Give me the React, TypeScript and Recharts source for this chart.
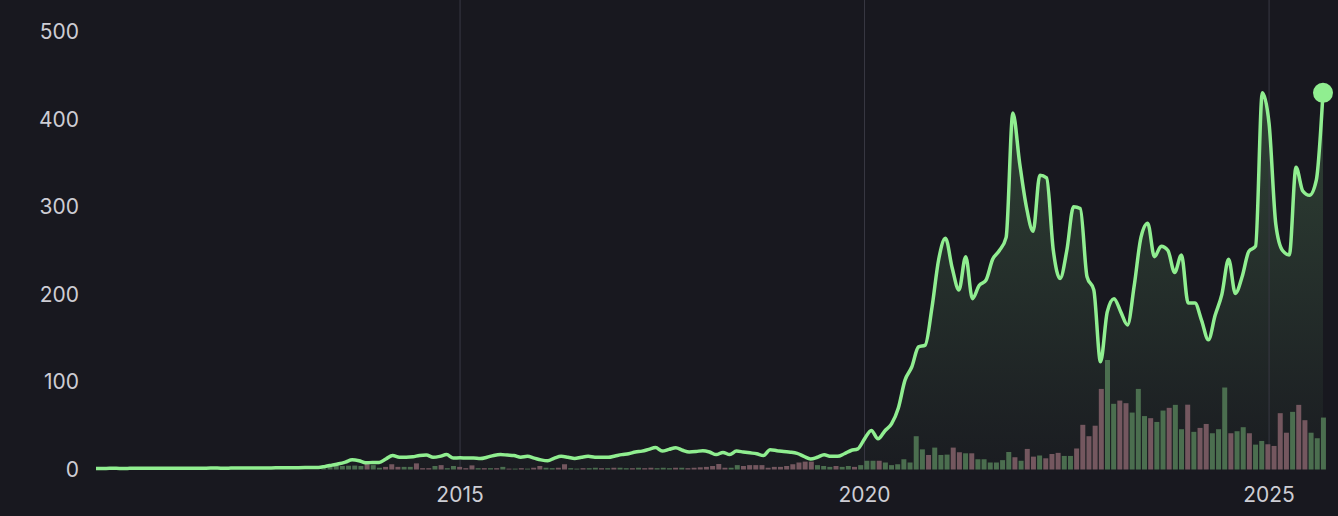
import React from "react";
import { AreaChart, Area, BarChart, Bar, Cell, LineChart, Line, XAxis, YAxis, ReferenceLine } from "recharts";

const W = 1338;
const H = 516;
const BG = "#18181f";
const LINE = "#90ee90";
const UP = "#4b6e4f";
const DOWN = "#74575f";
const TEXT = "#cdcdd4";
const FONT = "Inter, 'Noto Sans', sans-serif";

// monthly closes, first month 2010-07
const START_YEAR = 2010;
const START_MONTH = 7;
const PRICE = [
  1.2, 1.2, 1.3, 1.3, 1.2, 1.3, 1.4, 1.4, 1.3, 1.4, 1.5, 1.4,
  1.4, 1.5, 1.5, 1.4, 1.5, 1.6, 1.6, 1.5, 1.6, 1.7, 1.7, 1.6,
  1.7, 1.8, 1.8, 1.9, 2, 2, 2.1, 2.2, 2.3, 2.3, 3.5, 5,
  6.5, 8.5, 11, 10, 7.7, 8, 8, 12, 16, 14, 14, 14.5,
  16, 16.5, 14, 15, 17, 13, 13.5, 13, 13, 12.5, 14, 16,
  17, 16.5, 16, 14, 15, 13, 11, 10, 13, 15, 14, 12.6,
  14, 15, 14, 14, 14, 15.5, 17, 18, 20, 21, 23, 25,
  21, 23, 24.8, 22, 20, 20.5, 21.5, 20, 17, 19.5, 17, 21,
  20, 19, 18, 16, 22.5, 21.5, 20.5, 19.8, 18.4, 15, 12, 14,
  16.8, 15, 15, 18, 21.7, 23.6, 35, 44.6, 35, 44, 52, 70,
  102, 117, 140, 142, 185, 240, 264, 230, 205, 243, 195, 210,
  216, 240, 250, 265, 407, 350, 300, 272, 336, 333, 250, 218,
  250, 300, 298, 220, 205, 123, 180, 195, 180, 165, 210, 265,
  281, 243, 255, 250, 225, 245, 190, 190, 170, 148, 176, 200,
  240, 201, 220, 249, 255, 430, 395, 280, 250, 245, 345, 318,
  313, 330, 430,
];

const MONTHS = PRICE.map((_, i) => {
  const m = START_MONTH - 1 + i;
  return `${START_YEAR + Math.floor(m / 12)}-${String((m % 12) + 1).padStart(2, "0")}`;
});
const YEAR_TICKS = ["2015-01", "2020-01", "2025-01"];
const Y_TICKS = [0, 100, 200, 300, 400, 500];
const Y_MAX = 536;

// 4-week volume bars, from mid 2013 to the last period
const VOLUME = [
  1, 4, 4.5, 4, 4.3, 4.5, 4, 7.8, 5, 2, 3, 6, 3, 3, 3, 7, 1.5, 1.5, 4, 5,
  1.5, 4, 3, 1.5, 4.7, 1.5, 1.5, 1.5, 1.5, 3, 1, 1, 1.5, 1, 2, 4, 2, 1.5, 2, 6,
  1.5, 1, 1.5, 1.5, 2, 1.5, 1.5, 2, 2, 1.5, 1.5, 2, 1.5, 2, 1.5, 2, 1.5, 2, 2, 1.5,
  2, 2.5, 3, 4, 6.3, 2, 2, 5, 4, 5, 5, 5, 2, 3, 3, 4, 6, 8, 9, 9,
  5, 4, 3, 4, 3, 4, 3, 5, 10, 10, 10, 8, 5, 6, 11.7, 8, 38, 23, 16.6, 25,
  16.6, 17, 25, 19.7, 18.5, 18.5, 11.7, 11.7, 8, 8, 10.7, 20, 14, 10, 23.5, 14.7, 16, 12.8, 17.7, 19,
  15.5, 15.5, 24, 51, 38, 50, 92, 125, 75, 78.7, 75.7, 65, 92, 61, 58.6, 54.3, 67.3, 70.4, 73.8, 46,
  74, 43, 47.5, 52, 41.4, 46, 93.6, 41.4, 43.7, 48.3, 41.4, 28.4, 32.6, 28.8, 26.9, 64.3, 42, 65.8, 73.8, 56.3,
  42, 35.7, 59.3,
];
const VOLUME_UP = [
  1, 1, 1, 1, 1, 1, 1, 0, 1, 1, 0, 0, 0, 1, 1, 0, 0, 0, 1, 0,
  1, 1, 0, 0, 0, 1, 0, 1, 0, 1, 0, 1, 0, 1, 0, 0, 1, 1, 0, 0,
  1, 1, 0, 1, 1, 0, 1, 0, 1, 1, 0, 1, 0, 0, 1, 1, 1, 0, 1, 0,
  0, 0, 0, 0, 0, 0, 1, 1, 0, 0, 0, 0, 0, 0, 0, 0, 0, 0, 0, 0,
  1, 1, 1, 0, 1, 1, 0, 1, 1, 1, 0, 1, 1, 1, 1, 1, 1, 1, 0, 1,
  1, 1, 0, 0, 1, 0, 1, 1, 1, 1, 1, 1, 0, 1, 0, 0, 1, 0, 0, 0,
  1, 1, 0, 0, 0, 0, 0, 1, 1, 0, 0, 1, 1, 1, 0, 1, 1, 0, 1, 1,
  0, 1, 0, 0, 1, 1, 1, 0, 1, 1, 0, 1, 1, 0, 0, 0, 0, 1, 0, 0,
  1, 1, 1,
];

const priceData = PRICE.map((price, i) => ({ i, month: MONTHS[i], price }));
const volumeData = VOLUME.map((v, k) => ({ k, v, up: VOLUME_UP[k] === 1 }));
const tickIdx = YEAR_TICKS.map((t) => MONTHS.indexOf(t));

const PLOT_BOTTOM = 46.5;
const BAR_PITCH = 6.17;
const BAR_RIGHT = 1326.6;

const layer: React.CSSProperties = { position: "absolute", left: 0, top: 0 };

function EndDot(props: any) {
  const { cx, cy, index } = props;
  if (index !== PRICE.length - 1) return <g key={`d${index}`} />;
  return <circle key={`d${index}`} cx={cx} cy={cy} r={10} fill={LINE} />;
}

export default function App() {
  return (
    <div style={{ position: "fixed", left: 0, top: 0, width: W, height: H, background: BG, overflow: "hidden" }}>
      {/* year lines, axes and area fill */}
      <div style={layer}>
        <AreaChart width={W} height={H} data={priceData} margin={{ top: 0, right: 15, bottom: 0, left: 0 }}>
          <defs>
            <linearGradient id="priceFill" x1="0" y1="0" x2="0" y2="1">
              <stop offset="0%" stopColor={LINE} stopOpacity={0.32} />
              <stop offset="100%" stopColor={LINE} stopOpacity={0.03} />
            </linearGradient>
          </defs>
          <XAxis
            type="number"
            dataKey="i"
            domain={[0, PRICE.length - 1]}
            ticks={tickIdx}
            tickFormatter={(v) => MONTHS[v].slice(0, 4)}
            axisLine={false}
            tickLine={false}
            tickSize={0}
            tickMargin={18}
            height={PLOT_BOTTOM}
            tick={{ fill: TEXT, fontSize: 21, fontFamily: FONT }}
          />
          <YAxis
            domain={[0, Y_MAX]}
            ticks={Y_TICKS}
            width={96}
            axisLine={false}
            tickLine={false}
            tickSize={0}
            tickMargin={17}
            tick={{ fill: TEXT, fontSize: 21, fontFamily: FONT }}
          />
          {tickIdx.map((t) => (
            <ReferenceLine key={t} x={t} stroke="#393944" strokeWidth={1} />
          ))}
          <Area type="monotone" dataKey="price" stroke="none" fill="url(#priceFill)" isAnimationActive={false} />
        </AreaChart>
      </div>

      {/* volume */}
      <div style={layer}>
        <BarChart
          width={W}
          height={H}
          data={volumeData}
          barCategoryGap={0.5}
          margin={{ top: 0, right: W - BAR_RIGHT, bottom: PLOT_BOTTOM, left: BAR_RIGHT - VOLUME.length * BAR_PITCH }}
        >
          <XAxis dataKey="k" hide />
          <YAxis domain={[0, Y_MAX]} hide />
          <Bar dataKey="v" isAnimationActive={false}>
            {volumeData.map((d) => (
              <Cell key={d.k} fill={d.up ? UP : DOWN} />
            ))}
          </Bar>
        </BarChart>
      </div>

      {/* price line */}
      <div style={layer}>
        <LineChart width={W} height={H} data={priceData} margin={{ top: 0, right: 15, bottom: PLOT_BOTTOM, left: 96 }}>
          <XAxis type="number" dataKey="i" domain={[0, PRICE.length - 1]} hide />
          <YAxis domain={[0, Y_MAX]} hide />
          <Line
            type="monotone"
            dataKey="price"
            stroke={LINE}
            strokeWidth={3.5}
            dot={EndDot}
            activeDot={false}
            isAnimationActive={false}
          />
        </LineChart>
      </div>
    </div>
  );
}
